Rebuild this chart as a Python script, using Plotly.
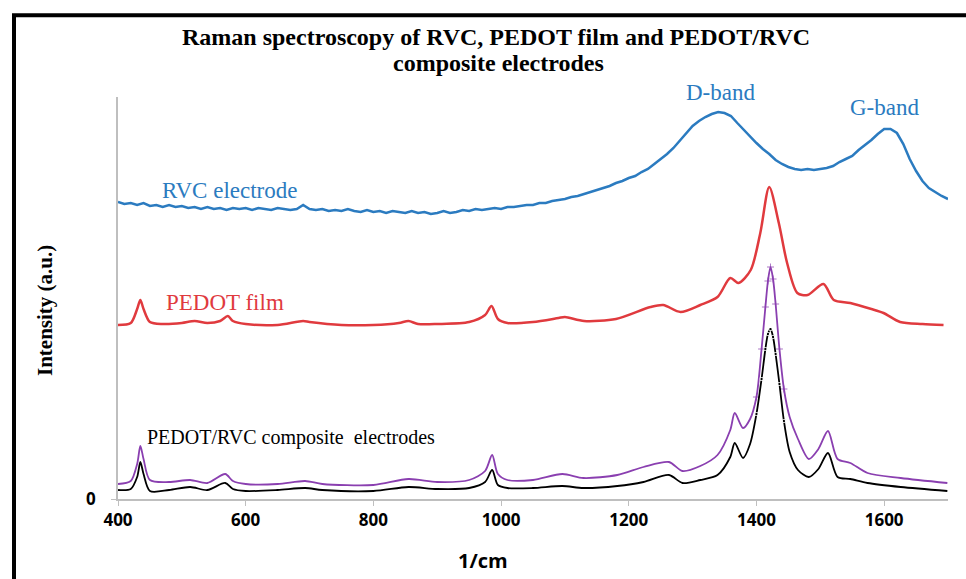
import plotly.graph_objects as go

# ---------------- data ----------------
rvc_x = list(range(400, 1701, 10))
rvc_y = [297, 295, 296, 294, 296, 293, 294, 292, 294, 292,
         293, 291, 292, 290, 292, 290, 291, 289, 291, 290,
         291, 289, 291, 290, 289, 291, 290, 289, 290, 294,
         290, 289, 290, 288, 289, 288, 290, 288, 287, 289,
         287, 288, 286, 288, 287, 286, 288, 286, 287, 285,
         286, 288, 286, 287, 289, 288, 290, 289, 290, 291,
         290, 292, 292, 293, 294, 294, 296, 296, 298, 299,
         300, 302, 303, 305, 307, 309, 311, 313, 316, 318,
         321, 323, 327, 330, 335, 340, 345, 351, 358, 366,
         373, 378, 382, 385, 387, 386, 383, 376, 369, 362,
         356, 350, 345, 339, 335, 332, 330, 329, 330, 329,
         330, 331, 333, 337, 340, 343, 349, 354, 359, 365,
         370, 370, 366, 355, 340, 328, 318, 311, 307, 303,
         300]

pedot_x = [400, 420, 430, 435, 440, 450, 470, 500, 520, 540, 560, 572, 580, 600,
           650, 690, 700, 750, 800, 840, 855, 870, 900, 950, 975, 985, 995, 1010,
           1050, 1090, 1100, 1130, 1180, 1234, 1254, 1281, 1312, 1339, 1359, 1372,
           1391, 1406, 1420, 1435, 1448, 1464, 1480, 1505, 1521, 1547, 1580, 1599,
           1625, 1660, 1693]
pedot_y = [174, 176, 190, 199, 190, 177, 175, 176, 178, 176, 178, 183, 178, 175,
           174, 178, 177, 174, 174, 176, 178, 175, 175, 177, 184, 193, 180, 176,
           177, 181, 182, 178, 180, 192, 194, 187, 194, 202, 221, 216,
           229, 266, 312, 276, 236, 206, 204, 215, 199, 196, 190, 186,
           177, 175, 174]

comp_x = [400, 420, 430, 435, 440, 450, 480, 513, 540, 568, 580, 600, 650, 693,
          720, 800, 855, 900, 950, 975, 986, 995, 1010, 1050, 1096, 1129, 1182,
          1223, 1263, 1284, 1312, 1339, 1359, 1366, 1379, 1390, 1400, 1408, 1414,
          1418, 1422, 1426, 1430, 1436, 1443, 1452, 1465, 1482, 1497, 1512, 1527,
          1547, 1574, 1626, 1699]
comp_purple = [15, 18, 35, 53, 40, 19, 17, 19, 16, 25, 18, 15, 15, 18,
               15, 14, 20, 17, 19, 28, 44, 25, 19, 19, 25, 21, 24,
               32, 37, 28, 33, 44, 69, 86, 71, 80, 102, 150, 192,
               218, 232, 220, 195, 150, 110, 82, 60, 40, 50, 68, 40,
               36, 26, 21, 16]
comp_black = [9, 10, 22, 37, 25, 8, 9, 12, 9, 16, 10, 8, 9, 11,
              9, 8, 12, 10, 11, 17, 29, 14, 11, 11, 13, 11, 13,
              17, 24, 16, 19, 24, 42, 56, 41, 55, 85, 120, 150,
              165, 170, 162, 145, 115, 78, 47, 29, 22, 30, 46, 22,
              20, 16, 12, 8]

x_ticks = [400, 600, 800, 1000, 1200, 1400, 1600]

BLUE = "#2B7BC0"
RED = "#E03A3E"
PURPLE = "#8A3FB0"

# markers are visible only on the steep main peak (as in the reference)
peak_sizes = [5 if 1395 <= v <= 1450 else 0 for v in comp_x]
peak_sizes_b = [3 if 1395 <= v <= 1450 else 0 for v in comp_x]

fig = go.Figure()
fig.add_trace(go.Scatter(x=rvc_x, y=rvc_y, mode="lines",
                         line=dict(color=BLUE, width=2.5)))
fig.add_trace(go.Scatter(x=pedot_x, y=pedot_y, mode="lines",
                         line=dict(color=RED, width=2.5, shape="spline", smoothing=0.8)))
fig.add_trace(go.Scatter(x=comp_x, y=comp_purple, mode="lines+markers",
                         line=dict(color=PURPLE, width=1.8, shape="spline", smoothing=0.8),
                         marker=dict(symbol="cross-thin", size=peak_sizes, color=PURPLE,
                                     line=dict(color=PURPLE, width=1))))
fig.add_trace(go.Scatter(x=comp_x, y=comp_black, mode="lines+markers",
                         line=dict(color="black", width=1.8, shape="spline", smoothing=0.8),
                         marker=dict(symbol="square", size=peak_sizes_b, color="black")))

serif = "Liberation Serif, Times New Roman, serif"
sans = "Open Sans, Liberation Sans, Arial, sans-serif"

annots = [
    dict(x=1343, y=1.01, text="D-band", color=BLUE, size=23),
    dict(x=1600, y=0.973, text="G-band", color=BLUE, size=23),
    dict(x=575, y=0.768, text="RVC electrode", color=BLUE, size=23),
    dict(x=568, y=0.489, text="PEDOT film", color=RED, size=23),
    dict(x=671, y=0.152, text="PEDOT/RVC composite  electrodes", color="black", size=20),
]
for a in annots:
    fig.add_annotation(x=a["x"], y=a["y"], xref="x", yref="paper", text=a["text"],
                       showarrow=False, font=dict(family=serif, size=a["size"], color=a["color"]),
                       xanchor="center", yanchor="middle")

# title (two lines)
fig.add_annotation(x=0.456, y=1.149, xref="paper", yref="paper",
                   text="<b>Raman spectroscopy of RVC, PEDOT film and PEDOT/RVC</b>",
                   showarrow=False, font=dict(family=serif, size=24, color="black"),
                   xanchor="center", yanchor="middle")
fig.add_annotation(x=0.458, y=1.084, xref="paper", yref="paper",
                   text="<b>composite electrodes</b>",
                   showarrow=False, font=dict(family=serif, size=24, color="black"),
                   xanchor="center", yanchor="middle")
# x-axis title
fig.add_annotation(x=0.44, y=-0.152, xref="paper", yref="paper",
                   text="<b>1/cm</b>", showarrow=False,
                   font=dict(family=sans, size=20, color="black"),
                   xanchor="center", yanchor="middle")
# y-axis title
fig.add_annotation(x=-0.088, y=0.47, xref="paper", yref="paper",
                   text="<b>Intensity (a.u.)</b>", showarrow=False, textangle=-90,
                   font=dict(family=serif, size=21, color="black"),
                   xanchor="center", yanchor="middle")

# outer black frame
fig.add_shape(type="rect", xref="paper", yref="paper",
              x0=-0.1253, x1=1.06, y0=-0.3, y1=1.2035,
              line=dict(color="black", width=4), fillcolor="rgba(0,0,0,0)", layer="above")

fig.update_layout(
    width=966, height=579,
    margin=dict(l=118, r=18, t=97, b=80),
    paper_bgcolor="white", plot_bgcolor="white",
    showlegend=False,
    xaxis=dict(range=[400, 1700], tickvals=x_ticks, ticktext=[str(v) for v in x_ticks],
               showgrid=False, zeroline=False, showline=True, linecolor="#BFBFBF", linewidth=1.5,
               ticks="outside", ticklen=5, tickcolor="#BFBFBF",
               tickfont=dict(family=sans, size=17, color="black", weight="bold")),
    yaxis=dict(range=[0, 402], tickvals=[0], ticktext=["0"],
               showgrid=False, zeroline=False, showline=True, linecolor="#BFBFBF", linewidth=1.5,
               ticks="outside", ticklen=5, tickcolor="#BFBFBF", ticklabelstandoff=12,
               tickfont=dict(family=sans, size=17, color="black", weight="bold")),
)

fig.write_html("out.html")
